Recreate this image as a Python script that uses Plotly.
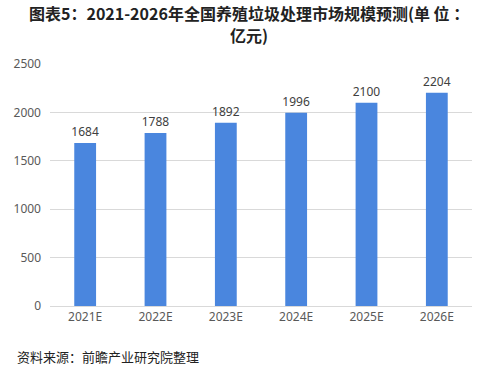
import plotly.graph_objects as go

categories = ["2021E", "2022E", "2023E", "2024E", "2025E", "2026E"]
values = [1684, 1788, 1892, 1996, 2100, 2204]
y_ticks = [0, 500, 1000, 1500, 2000, 2500]

fig = go.Figure()
fig.add_trace(go.Bar(
    x=categories, y=values,
    marker=dict(color="#4a86de", line=dict(width=0)),
    text=[str(v) for v in values], textposition="outside",
    textfont=dict(size=12, color="#404040", family="Noto Sans, sans-serif"),
    constraintext="none",
    cliponaxis=False,
))

fig.update_layout(
    width=502, height=373,
    margin=dict(l=50, r=30, t=64, b=67),
    paper_bgcolor="white", plot_bgcolor="white",
    bargap=0.69,
    showlegend=False,
    xaxis=dict(
        tickfont=dict(size=12, color="#595959", family="Noto Sans, sans-serif"),
        showline=True, linecolor="#d9d9d9", linewidth=1, ticks="",
    ),
    yaxis=dict(
        range=[0, 2500], tickvals=y_ticks,
        tickfont=dict(size=12, color="#595959", family="Noto Sans, sans-serif"),
        showgrid=True, gridcolor="#d9d9d9", gridwidth=1, zeroline=False,
        ticks="", ticklabelstandoff=8,
    ),
)

title_font = dict(size=16, color="#222222", family="Noto Sans CJK SC")
fig.add_annotation(
    text="<b>图表5：2021-2026年全国养殖垃圾处理市场规模预测(单 位 ：</b>",
    xref="paper", yref="paper", x=0.4716, y=1.211, xanchor="center", yanchor="middle",
    showarrow=False, font=title_font,
)
fig.add_annotation(
    text="<b>亿元)</b>",
    xref="paper", yref="paper", x=0.4716, y=1.12, xanchor="center", yanchor="middle",
    showarrow=False, font=title_font,
)

fig.add_annotation(
    text="资料来源：前瞻产业研究院整理", xref="paper", yref="paper",
    x=-0.083, y=-0.161, xanchor="left", yanchor="top", showarrow=False,
    font=dict(size=13, color="#222222", family="Noto Sans CJK SC"),
)

fig.write_html("out.html", config={"displayModeBar": False},
               post_script="document.body.style.margin='0';")
